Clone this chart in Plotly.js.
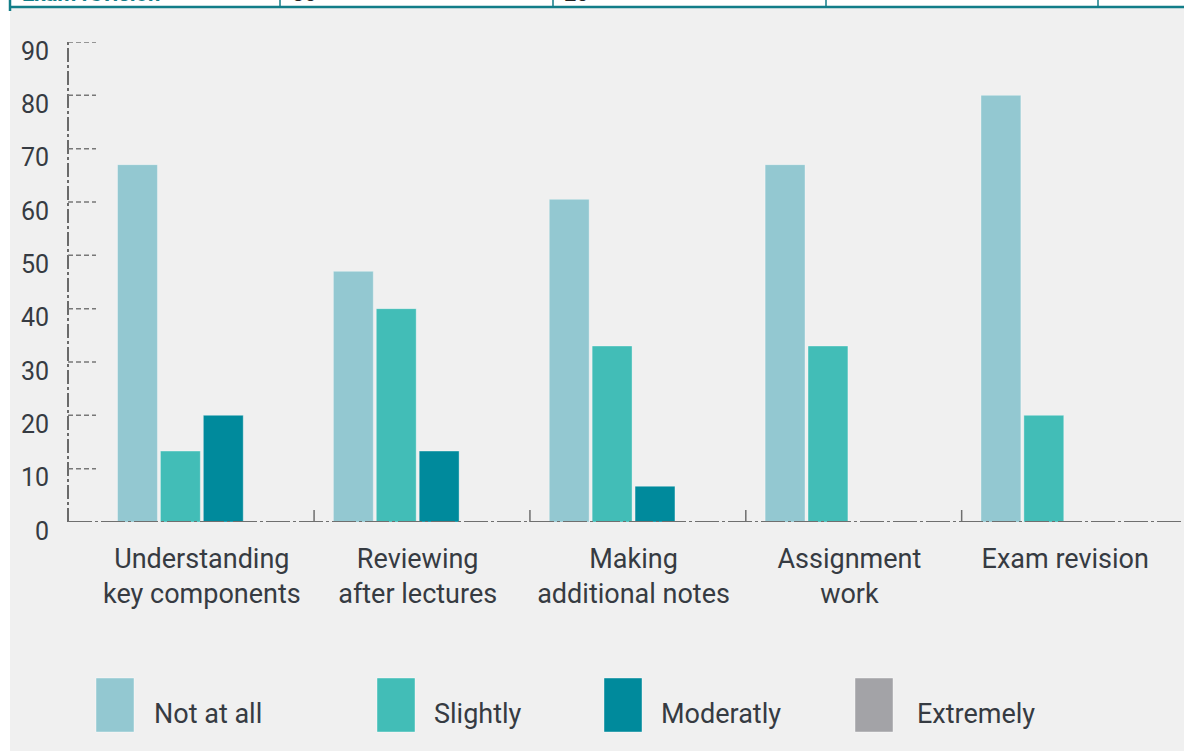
<!DOCTYPE html>
<html>
<head>
<meta charset="utf-8">
<script src="https://cdn.plot.ly/plotly-3.0.1.min.js"></script>
<style>html,body{margin:0;padding:0;background:#f0f0f0;}#chart{width:1184px;height:751px;}</style>
</head>
<body>
<div id="chart"></div>
<script>
// ---- data ----
const categories = ["Understanding<br>key components", "Reviewing<br>after lectures", "Making<br>additional notes", "Assignment<br>work", "Exam revision"];
const seriesNames = ["Not at all", "Slightly", "Moderatly", "Extremely"];
const notAtAll = [67, 47, 60.5, 67, 80];
const slightly = [13.3, 40, 33, 33, 20];
const moderately = [20, 13.3, 6.7, 0, 0];
const extremely = [0, 0, 0, 0, 0];
const yTicks = [0, 10, 20, 30, 40, 50, 60, 70, 80, 90];
const tableRow = ["Exam revision", "80", "20"];

// ---- styling ----
const colors = ["#93c8d1", "#42bdb7", "#008a9c", "#a3a3a7"];
const textColor = "#363b42";
const font = "Roboto, 'DejaVu Sans', sans-serif";
const W = 1184, H = 751, ML = 68, MR = 0, MT = 42, MB = 229;
const PW = W - ML - MR, PH = H - MT - MB;
const px = x => (x - ML) / PW;        // pixel -> paper x
const py = y => (H - MB - y) / PH;     // pixel -> paper y

const seriesValues = [notAtAll, slightly, moderately, extremely];
const traces = seriesNames.map((n, i) => ({
  type: "bar", name: n, x: categories, y: seriesValues[i],
  marker: {color: colors[i], line: {color: "rgba(255,255,255,0.35)", width: seriesValues[i].map(v => v > 0 ? 1 : 0)}},
  hoverinfo: "x+y", showlegend: false
}));

const shapes = [];
const annotations = [];
// white strip left & top table row
shapes.push({type: "rect", xref: "paper", yref: "paper", x0: px(0), x1: px(10), y0: py(751), y1: py(0), fillcolor: "#ffffff", line: {width: 0}, layer: "below"});
shapes.push({type: "rect", xref: "paper", yref: "paper", x0: px(0), x1: px(1184), y0: py(7), y1: py(0), fillcolor: "#ffffff", line: {width: 0}, layer: "below"});
shapes.push({type: "line", xref: "paper", yref: "paper", x0: px(9), x1: px(1184), y0: py(7), y1: py(7), line: {color: "#127d88", width: 2.5}});
shapes.push({type: "line", xref: "paper", yref: "paper", x0: px(10), x1: px(10), y0: py(0), y1: py(11), line: {color: "#127d88", width: 2.5}});
[280, 553, 826, 1098].forEach(x => shapes.push({type: "line", xref: "paper", yref: "paper", x0: px(x), x1: px(x), y0: py(0), y1: py(7), line: {color: "#127d88", width: 1.5}}));
const tableX = [20, 290, 562];
tableRow.forEach((t, i) => annotations.push({xref: "paper", yref: "paper", x: px(tableX[i]), y: py(4), xanchor: "left", yanchor: "bottom", yshift: -4,
  text: i === 0 ? "<b>" + t + "</b>" : t, showarrow: false, font: {family: font, size: 22, color: i === 0 ? "#127d88" : "#222"}}));

// y axis line and dashed ticks
shapes.push({type: "line", xref: "paper", yref: "y", x0: 0, x1: 0, y0: 0, y1: 90, line: {color: "#6a6a6a", width: 2, dash: "14px,3px,3px,3px"}});
yTicks.filter(t => t > 0).forEach(t => shapes.push({type: "line", xref: "paper", yref: "y", x0: 0, x1: px(96), y0: t, y1: t, line: {color: "#777", width: 1.5, dash: "5px,3px"}}));
// x axis baseline
shapes.push({type: "line", xref: "paper", yref: "y", x0: 0, x1: 1, y0: 0, y1: 0, line: {color: "#6f6f6f", width: 2, dash: "24px,3px,3px,3px"}});
// group boundary ticks
categories.slice(0, -1).forEach((c, i) => shapes.push({type: "line", xref: "x", yref: "paper", x0: i + 0.52, x1: i + 0.52, y0: 0, y1: 12 / PH, line: {color: "#6f6f6f", width: 1.5}}));

// custom legend
const legSq = [96, 377, 604, 855], legTx = [152, 432, 659, 915];
seriesNames.forEach((n, i) => {
  shapes.push({type: "rect", xref: "paper", yref: "paper", x0: px(legSq[i]), x1: px(legSq[i] + 38), y0: py(732), y1: py(678), fillcolor: colors[i], line: {color: "rgba(255,255,255,0.4)", width: 1}});
  annotations.push({xref: "paper", yref: "paper", x: px(legTx[i]), y: py(714), xanchor: "left", yanchor: "middle", text: n, showarrow: false, font: {family: font, size: 27, color: textColor}});
});

const layout = {
  width: W, height: H,
  margin: {l: ML, r: MR, t: MT, b: MB},
  paper_bgcolor: "#f0f0f0", plot_bgcolor: "#f0f0f0",
  barmode: "group", bargap: 0.205, bargroupgap: 0.07,
  font: {family: font, color: textColor},
  xaxis: {type: "category", range: [-0.62, 4.55], showline: false, showgrid: false, zeroline: false, ticks: "",
    tickfont: {family: font, size: 27, color: textColor}, ticklabelstandoff: 18, fixedrange: true},
  yaxis: {range: [0, 90], tickvals: yTicks, showline: false, showgrid: false, zeroline: false, ticks: "",
    tickfont: {family: font, size: 25, color: textColor}, ticklabelstandoff: 18, ticklabelshift: 9, fixedrange: true},
  shapes: shapes, annotations: annotations
};
Plotly.newPlot("chart", traces, layout, {displayModeBar: false, staticPlot: true});
</script>
</body>
</html>
